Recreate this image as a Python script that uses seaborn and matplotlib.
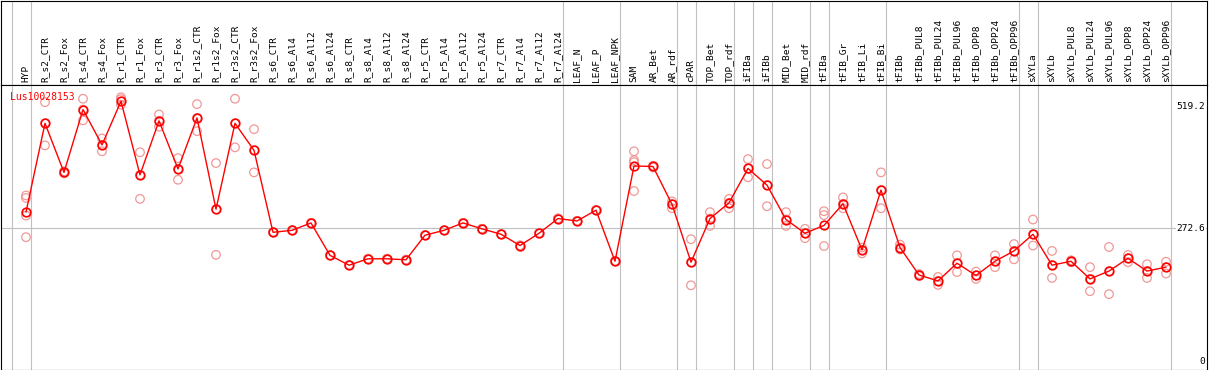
import numpy as np
import pandas as pd
import matplotlib
matplotlib.use("Agg")
import matplotlib.pyplot as plt
import seaborn as sns

# gene shown in the panel
gene = "Lus10028153"

# sample / condition names (one column each)
samples = [
    "HYP", "R_s2_CTR", "R_s2_Fox", "R_s4_CTR", "R_s4_Fox", "R_r1_CTR", "R_r1_Fox",
    "R_r3_CTR", "R_r3_Fox", "R_r1s2_CTR", "R_r1s2_Fox", "R_r3s2_CTR", "R_r3s2_Fox",
    "R_s6_CTR", "R_s6_Al4", "R_s6_Al12", "R_s6_Al24", "R_s8_CTR", "R_s8_Al4",
    "R_s8_Al12", "R_s8_Al24", "R_r5_CTR", "R_r5_Al4", "R_r5_Al12", "R_r5_Al24",
    "R_r7_CTR", "R_r7_Al4", "R_r7_Al12", "R_r7_Al24", "LEAF_N", "LEAF_P", "LEAF_NPK",
    "SAM", "AR_Bet", "AR_rdf", "cPAR", "TOP_Bet", "TOP_rdf", "iFIBa", "iFIBb",
    "MID_Bet", "MID_rdf", "tFIBa", "tFIB_Gr", "tFIB_Li", "tFIB_Bi", "tFIBb",
    "tFIBb_PUL8", "tFIBb_PUL24", "tFIBb_PUL96", "tFIBb_OPP8", "tFIBb_OPP24", "tFIBb_OPP96",
    "sXYLa", "sXYLb", "sXYLb_PUL8", "sXYLb_PUL24", "sXYLb_PUL96", "sXYLb_OPP8",
    "sXYLb_OPP24", "sXYLb_OPP96",
]

# mean expression per sample
expr_mean = [
    305, 486, 386, 514, 442, 531, 381, 491, 393, 497,
    311, 486, 431, 264, 268, 283, 217, 197, 210, 210,
    208, 258, 268, 283, 271, 260, 237, 262, 292, 287,
    309, 205, 399, 398, 321, 203, 292, 324, 394, 360,
    290, 262, 278, 322, 228, 350, 233, 177, 165, 201,
    176, 205, 226, 260, 197, 205, 169, 185, 211, 185, 193,
]

# single replicates per sample
expr_reps = [
    [339, 334, 298, 254], [529, 486, 441], [388, 384, 386], [536, 514, 492],
    [455, 442, 429], [539, 535, 524], [427, 381, 332], [504, 491, 479],
    [415, 393, 371], [525, 497, 470], [405, 311, 218], [536, 486, 437],
    [474, 431, 386], [264, 264, 264], [268, 268, 268], [283, 283, 283],
    [217, 217, 217], [197, 197, 197], [210, 210, 210], [210, 210, 210],
    [208, 208, 208], [258, 258, 258], [268, 268, 268], [283, 283, 283],
    [271, 271, 271], [260, 260, 260], [237, 237, 237], [262, 262, 262],
    [292, 292, 292], [287, 287, 287], [309, 309, 309], [205, 205, 205],
    [429, 411, 407, 348], [399, 396, 398], [327, 321, 313], [250, 203, 156],
    [305, 292, 277], [332, 324, 313], [413, 394, 376], [403, 360, 317],
    [305, 290, 277], [271, 262, 252], [307, 299, 236], [335, 322, 313],
    [233, 228, 221], [386, 350, 313], [239, 233, 229], [179, 177, 175],
    [173, 165, 157], [217, 201, 183], [184, 176, 169], [217, 205, 193],
    [240, 226, 209], [290, 260, 237], [226, 197, 171], [207, 205, 203],
    [193, 169, 144], [234, 185, 138], [218, 211, 203], [199, 185, 171],
    [204, 193, 180],
]

# sample index after which a group separator is drawn
group_breaks = [-1, 0, 28, 31, 34, 35, 37, 38, 39, 41, 42, 45, 52, 53, 60]

# values marked on the right side
y_marks = ["519.2", "272.6", "0"]
y_mark_vals = [519.2, 272.6, 0]

df = pd.DataFrame({"pos": np.arange(len(samples)), "expr": expr_mean})
reps = pd.DataFrame(
    [(i, v) for i, vals in enumerate(expr_reps) for v in vals],
    columns=["pos", "expr"],
)

sns.set_style("white")
plt.rcParams["font.family"] = ["DejaVu Sans Mono"]
plt.rcParams["text.color"] = "black"

W, H = 1209.0, 370.0
fig = plt.figure(figsize=(W / 100, H / 100), dpi=100)
ax_head = fig.add_axes([1 / W, 285 / H, 1206 / W, 84.5 / H])
ax = fig.add_axes([1 / W, 0.5 / H, 1206 / W, 284.5 / H])

xlim = ((1 - 26) / 19, (1207 - 26) / 19)
grey = "#c0c0c0"

for a in (ax_head, ax):
    a.set_xlim(xlim)
    a.set_xticks([])
    a.set_yticks([])
    for s in a.spines.values():
        s.set_color("black")
        s.set_linewidth(0.8)
    for b in group_breaks:
        a.axvline(b + 0.24, color=grey, lw=0.8, zorder=0)

# header with rotated sample names
ax_head.set_ylim(85, 0.5)
for i, name in enumerate(samples):
    ax_head.text(i, 82.5, name, rotation=90, ha="center", va="bottom",
                 fontsize=6.8, color="black")

# expression panel
ax.set_ylim(-15.5, 564)
ax.axhline(272.6, color=grey, lw=0.8, zorder=0)

sns.scatterplot(data=reps, x="pos", y="expr", ax=ax, color="none",
                edgecolor="#f09898", linewidth=0.9, s=38, zorder=2)
sns.lineplot(data=df, x="pos", y="expr", ax=ax, color="red", linewidth=1,
             marker="o", markersize=6.2, markerfacecolor="none",
             markeredgecolor="red", markeredgewidth=1.2, zorder=3)
ax.set_xlabel("")
ax.set_ylabel("")
ax.set_xlim(xlim)

for lab, v in zip(y_marks, y_mark_vals):
    ax.text(62.05, v, lab, ha="right", va="center", fontsize=6.8, zorder=4,
            color="black", bbox=dict(facecolor="white", edgecolor="none", pad=0.5))

ax.text(-0.84, 540, gene, color="red", ha="left", va="center", fontsize=7)

fig.savefig("out.png", dpi=100)
